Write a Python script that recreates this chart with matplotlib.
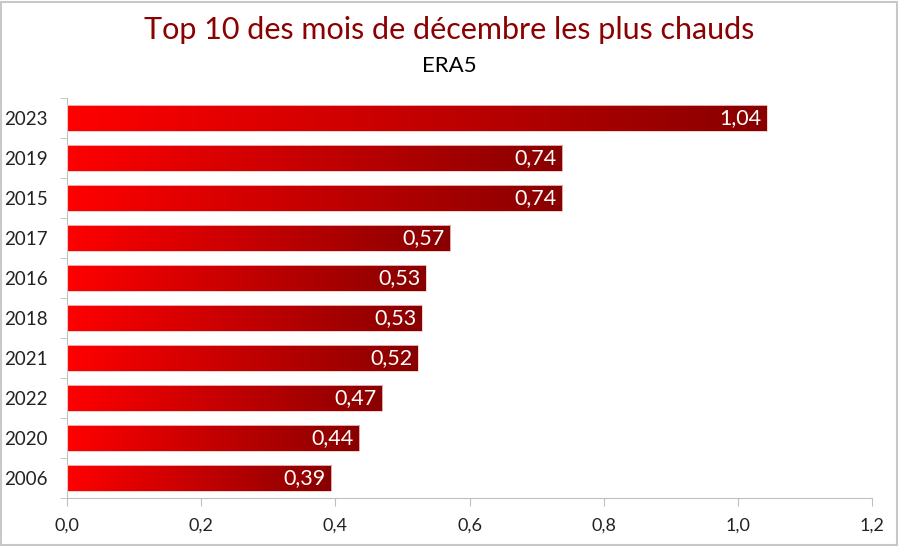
import numpy as np
import matplotlib.pyplot as plt
from matplotlib.colors import LinearSegmentedColormap
from matplotlib.patches import Rectangle
from matplotlib.ticker import FuncFormatter, MultipleLocator

annees = ['2023', '2019', '2015', '2017', '2016', '2018', '2021', '2022', '2020', '2006']
# valeurs lues sur la longueur des barres (non arrondies)
anomalies = [1.043, 0.738, 0.738, 0.571, 0.535, 0.529, 0.523, 0.47, 0.436, 0.394]
etiquettes = ['1,04', '0,74', '0,74', '0,57', '0,53', '0,53', '0,52', '0,47', '0,44', '0,39']

plt.rcParams['font.family'] = ['Lato', 'DejaVu Sans']

fig = plt.figure(figsize=(8.99, 5.46), dpi=100)
ax = fig.add_axes([67 / 899, 1 - 498 / 546, (872 - 67) / 899, 400 / 546])

# cadre gris autour de la figure
fig.patches.append(Rectangle((0.001, 0.001), 0.997, 0.996, transform=fig.transFigure,
                             fill=False, edgecolor='#C8C8C8', linewidth=1.5))

cmap = LinearSegmentedColormap.from_list('rouge', ['#FF0000', '#880000'])
grad = np.linspace(0, 1, 256).reshape(1, -1)
h = 0.65
n = len(annees)
for i, (v, lab) in enumerate(zip(anomalies, etiquettes)):
    y = n - 1 - i
    ax.imshow(grad, cmap=cmap, aspect='auto', extent=[0, v, y - h / 2, y + h / 2],
              interpolation='bilinear', zorder=2)
    ax.add_patch(Rectangle((0, y - h / 2), v, h, fill=False, edgecolor='#F4C8C8',
                           linewidth=0.6, zorder=3))
    ax.text(v - 0.008, y, lab, color='white', ha='right', va='center', fontsize=15.5, zorder=4)

ax.set_xlim(0, 1.2)
ax.set_ylim(-0.5, n - 0.5)
ax.xaxis.set_major_locator(MultipleLocator(0.2))
ax.xaxis.set_major_formatter(FuncFormatter(lambda x, p: f'{x:.1f}'.replace('.', ',')))
ax.set_yticks(range(n))
ax.set_yticklabels(annees[::-1])
ax.set_yticks(np.arange(-0.5, n, 1), minor=True)
ax.tick_params(axis='y', which='major', length=0, pad=14, labelsize=13.5, colors='#222222')
ax.tick_params(axis='y', which='minor', length=5, color='#BFBFBF')
ax.tick_params(axis='x', length=6, labelsize=13, pad=8, colors='#BFBFBF', labelcolor='#222222')
for s in ['top', 'right']:
    ax.spines[s].set_visible(False)
for s in ['left', 'bottom']:
    ax.spines[s].set_color('#BFBFBF')
ax.set_facecolor('none')

fig.text(0.5, 0.945, 'Top 10 des mois de décembre les plus chauds', ha='center', va='center',
         fontsize=22, color='#8B0000')
fig.text(0.5, 0.879, 'ERA5', ha='center', va='center', fontsize=16, color='black')

fig.savefig('out.png', dpi=100)
